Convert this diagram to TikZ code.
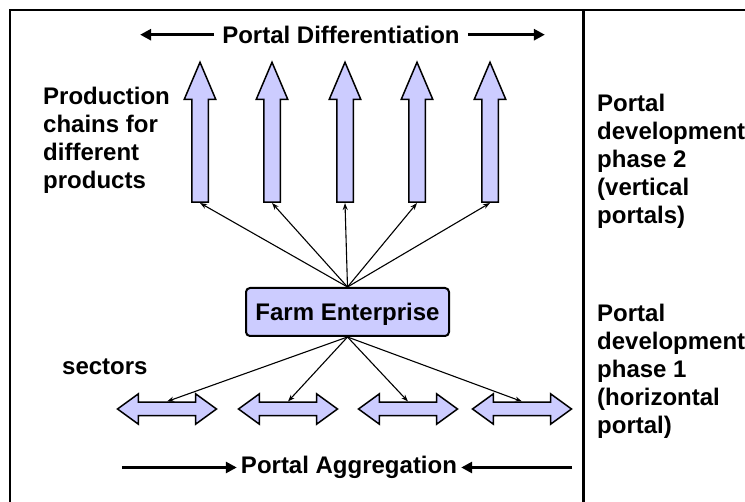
\documentclass[tikz,border=0pt]{standalone}
\usepackage{fontspec}
\setmainfont{Liberation Sans}
\usetikzlibrary{positioning,shapes.arrows,arrows.meta}
\definecolor{lavender}{HTML}{CCCCFF}
\begin{document}
\begin{tikzpicture}[x=1pt, y=-1pt,
    txt/.style={font=\fontsize{24}{28}\selectfont\bfseries, inner sep=0pt},
    farmbox/.style={txt, draw, fill=lavender, line width=2pt, rounded corners=4pt,
      minimum width=203pt, minimum height=48pt, text depth=0pt},
    chain/.style={single arrow, draw, fill=lavender, line width=1.5pt, inner sep=7.5pt,
      minimum height=140pt, single arrow head extend=7.5pt,
      single arrow tip angle=46, shape border rotate=90},
    sector/.style={double arrow, draw, fill=lavender, line width=1.5pt, inner sep=6pt,
      minimum height=99pt, double arrow head extend=8.5pt,
      double arrow tip angle=72},
    link/.style={-{Stealth[length=7pt,width=5pt]}, line width=1.1pt},
    bigarrow/.style={-{Triangle[length=11pt,width=11pt]}, line width=3pt}]
  \useasboundingbox (0,0) rectangle (745,502);
  % Frame
  \draw[line width=2.5pt] (10,502) -- (10,10) -- (745,10);
  \draw[line width=3pt] (583.5,10) -- (583.5,502);
  % Portal differentiation
  \node[txt, inner xsep=8pt] (diff) at (341,34.7) {Portal Differentiation};
  \coordinate[left=74pt of diff] (diffL);
  \coordinate[right=77pt of diff] (diffR);
  \draw[bigarrow] (diff) -- (diffL);
  \draw[bigarrow] (diff) -- (diffR);
  % Production chains
  \node[chain, anchor=tail] (c1) at (200,203) {};
  \node[chain, anchor=tail] (c2) at (272,203) {};
  \node[chain, anchor=tail] (c3) at (345,203) {};
  \node[chain, anchor=tail] (c4) at (417,203) {};
  \node[chain, anchor=tail] (c5) at (490,203) {};
  \node[txt, anchor=west, align=left] (prod) at (43,140) {Production\\chains for\\different\\products};
  % Farm
  \node[farmbox] (farm) at (347.5,312) {Farm Enterprise};
  \foreach \i in {1,...,5}
    \draw[link] (farm.north) -- (c\i.tail);
  % Sectors
  \node[sector] (s1) at (167,409) {};
  \node[sector] (s2) at (288,409) {};
  \node[sector] (s3) at (408,409) {};
  \node[sector] (s4) at (522,409) {};
  \node[txt, anchor=base west] (sect) at (62,375) {sectors};
  \foreach \i in {1,...,4}
    \draw[link] (farm.south) -- (s\i.north);
  % Portal aggregation
  \node[txt, inner xsep=4pt] (agg) at (349,467.5) {Portal Aggregation};
  \coordinate[left=115pt of agg] (aggL);
  \coordinate[right=111pt of agg] (aggR);
  \draw[bigarrow] (aggL) -- (agg);
  \draw[bigarrow] (aggR) -- (agg);
  % Phases
  \node[txt, anchor=west, align=left] (phase2) at (597,161) {Portal\\development\\phase 2\\(vertical\\portals)};
  \node[txt, anchor=west, align=left] (phase1) at (597,371) {Portal\\development\\phase 1\\(horizontal\\portal)};
\end{tikzpicture}
\end{document}
